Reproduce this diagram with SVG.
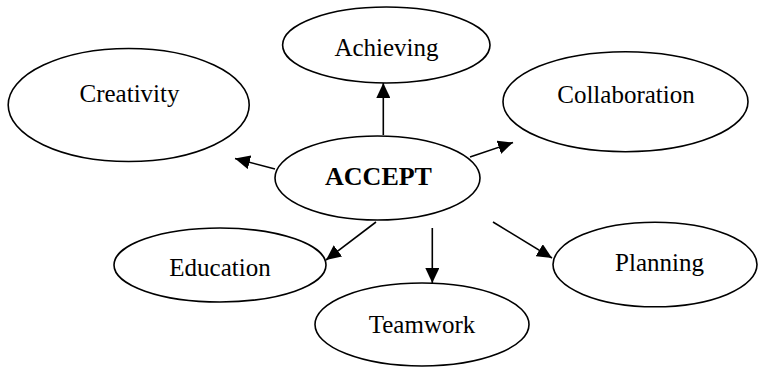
<svg xmlns="http://www.w3.org/2000/svg" width="759" height="367" viewBox="0 0 759 367">
<style>
.node ellipse{fill:#fff;stroke:#000;stroke-width:1.6}
.node text{font-family:"Liberation Serif","Times New Roman",serif;font-size:25px;fill:#000;text-anchor:middle}
#accept text{font-weight:bold;font-size:26px}
#connectors line{stroke:#000;stroke-width:1.6;marker-end:url(#arrow)}
</style>
<defs>
<marker id="arrow" markerUnits="userSpaceOnUse" markerWidth="16" markerHeight="14" refX="15" refY="7" orient="auto">
<path d="M0,0 L15,7 L0,14 Z" fill="#000"/>
</marker>
</defs>
<rect width="759" height="367" fill="#fff"/>
<g id="creativity" class="node"><ellipse cx="128.7" cy="105" rx="120.5" ry="56.5"/><text x="129.5" y="101.5">Creativity</text></g>
<g id="achieving" class="node"><ellipse cx="386.3" cy="45" rx="103.7" ry="38"/><text x="386.5" y="56">Achieving</text></g>
<g id="collaboration" class="node"><ellipse cx="625.5" cy="101.7" rx="122.5" ry="50"/><text x="626" y="103.3">Collaboration</text></g>
<g id="accept" class="node"><ellipse cx="377.5" cy="178" rx="102.5" ry="42"/><text x="378.5" y="185">ACCEPT</text></g>
<g id="education" class="node"><ellipse cx="220" cy="265" rx="106" ry="37"/><text x="220" y="276">Education</text></g>
<g id="planning" class="node"><ellipse cx="655" cy="264.5" rx="102" ry="42.3"/><text x="659.5" y="271">Planning</text></g>
<g id="teamwork" class="node"><ellipse cx="422" cy="324.5" rx="107" ry="41.5"/><text x="422" y="332.5">Teamwork</text></g>
<g id="connectors">
<line x1="383.3" y1="135" x2="383.3" y2="83"/>
<line x1="275" y1="169" x2="235" y2="158.5"/>
<line x1="470" y1="157" x2="513" y2="142.5"/>
<line x1="376" y1="222" x2="326" y2="260"/>
<line x1="432.3" y1="228" x2="432.3" y2="283"/>
<line x1="493" y1="222" x2="552" y2="258"/>
</g>
</svg>
